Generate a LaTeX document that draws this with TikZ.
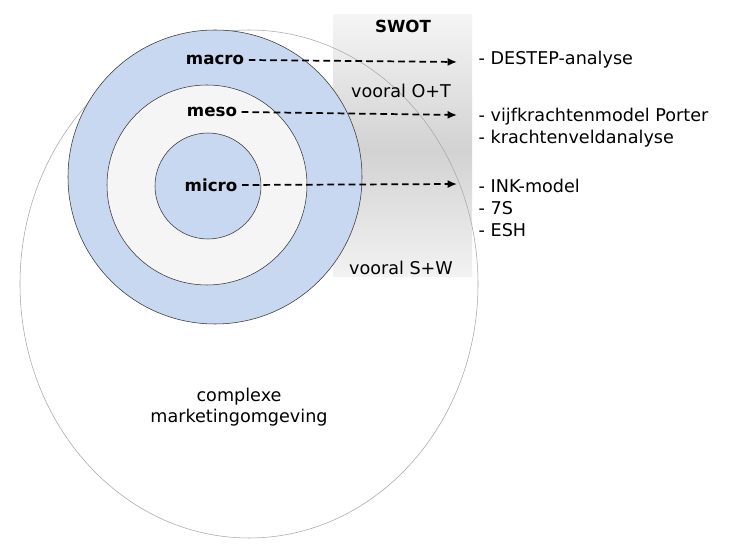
\documentclass[tikz,border=0pt]{standalone}
\usepackage{fontspec}
\usetikzlibrary{arrows.meta}
\setmainfont{DejaVu Sans}
\definecolor{cblue}{RGB}{200,216,240}
\begin{document}
\begin{tikzpicture}[x=0.75pt,y=-0.75pt,
  lbl/.style={font=\fontsize{13.2}{16}\selectfont},
  bl/.style={font=\fontsize{12.5}{15}\selectfont\bfseries},
  rt/.style={font=\fontsize{13.2}{16}\selectfont,anchor=west},
  arr/.style={-{Latex[length=7pt,width=6pt]},line width=1.3pt,dash pattern=on 5pt off 3pt}]
\useasboundingbox (0,0) rectangle (736,552);
\fill[white] (0,0) rectangle (736,552);
\shade[top color=gray!8,bottom color=gray!35] (333,15) rectangle (472,150);
\shade[top color=gray!35,bottom color=gray!10] (333,150) rectangle (472,277);
\draw[gray!70] (249,284) ellipse [x radius=229,y radius=254];
\draw[fill=cblue,draw=black!80] (215,177) circle [radius=147];
\draw[fill=gray!8,draw=black!80] (207,185) circle [radius=100];
\draw[fill=cblue,draw=black!80] (208,186) circle [radius=53];
\node[bl] (swot) at (403,26) {SWOT};
\node[lbl] (ot) at (401,91) {vooral O+T};
\node[lbl] (sw) at (401,268) {vooral S+W};
\node[bl] (macro) at (215,60) {macro};
\node[bl] (meso) at (212,112) {meso};
\node[bl] (micro) at (211,185) {micro};
\node[rt] (r1) at (474,60) {- DESTEP-analyse};
\node[rt] (r2) at (474,117) {- vijfkrachtenmodel Porter};
\node[rt] (r3) at (474,139) {- krachtenveldanalyse};
\node[rt] (r4) at (474,186) {- INK-model};
\node[rt] (r5) at (474,208) {- 7S};
\node[rt] (r6) at (474,230) {- ESH};
\coordinate (a1) at (457,62); \coordinate (a2) at (457,115); \coordinate (a3) at (457,184);
\draw[arr] (macro.east) -- (a1);
\draw[arr] (meso.east) -- (a2);
\draw[arr] (micro.east) -- (a3);
\node[lbl,align=center] (cm) at (239,407) {complexe\\marketingomgeving};
\end{tikzpicture}
\end{document}
